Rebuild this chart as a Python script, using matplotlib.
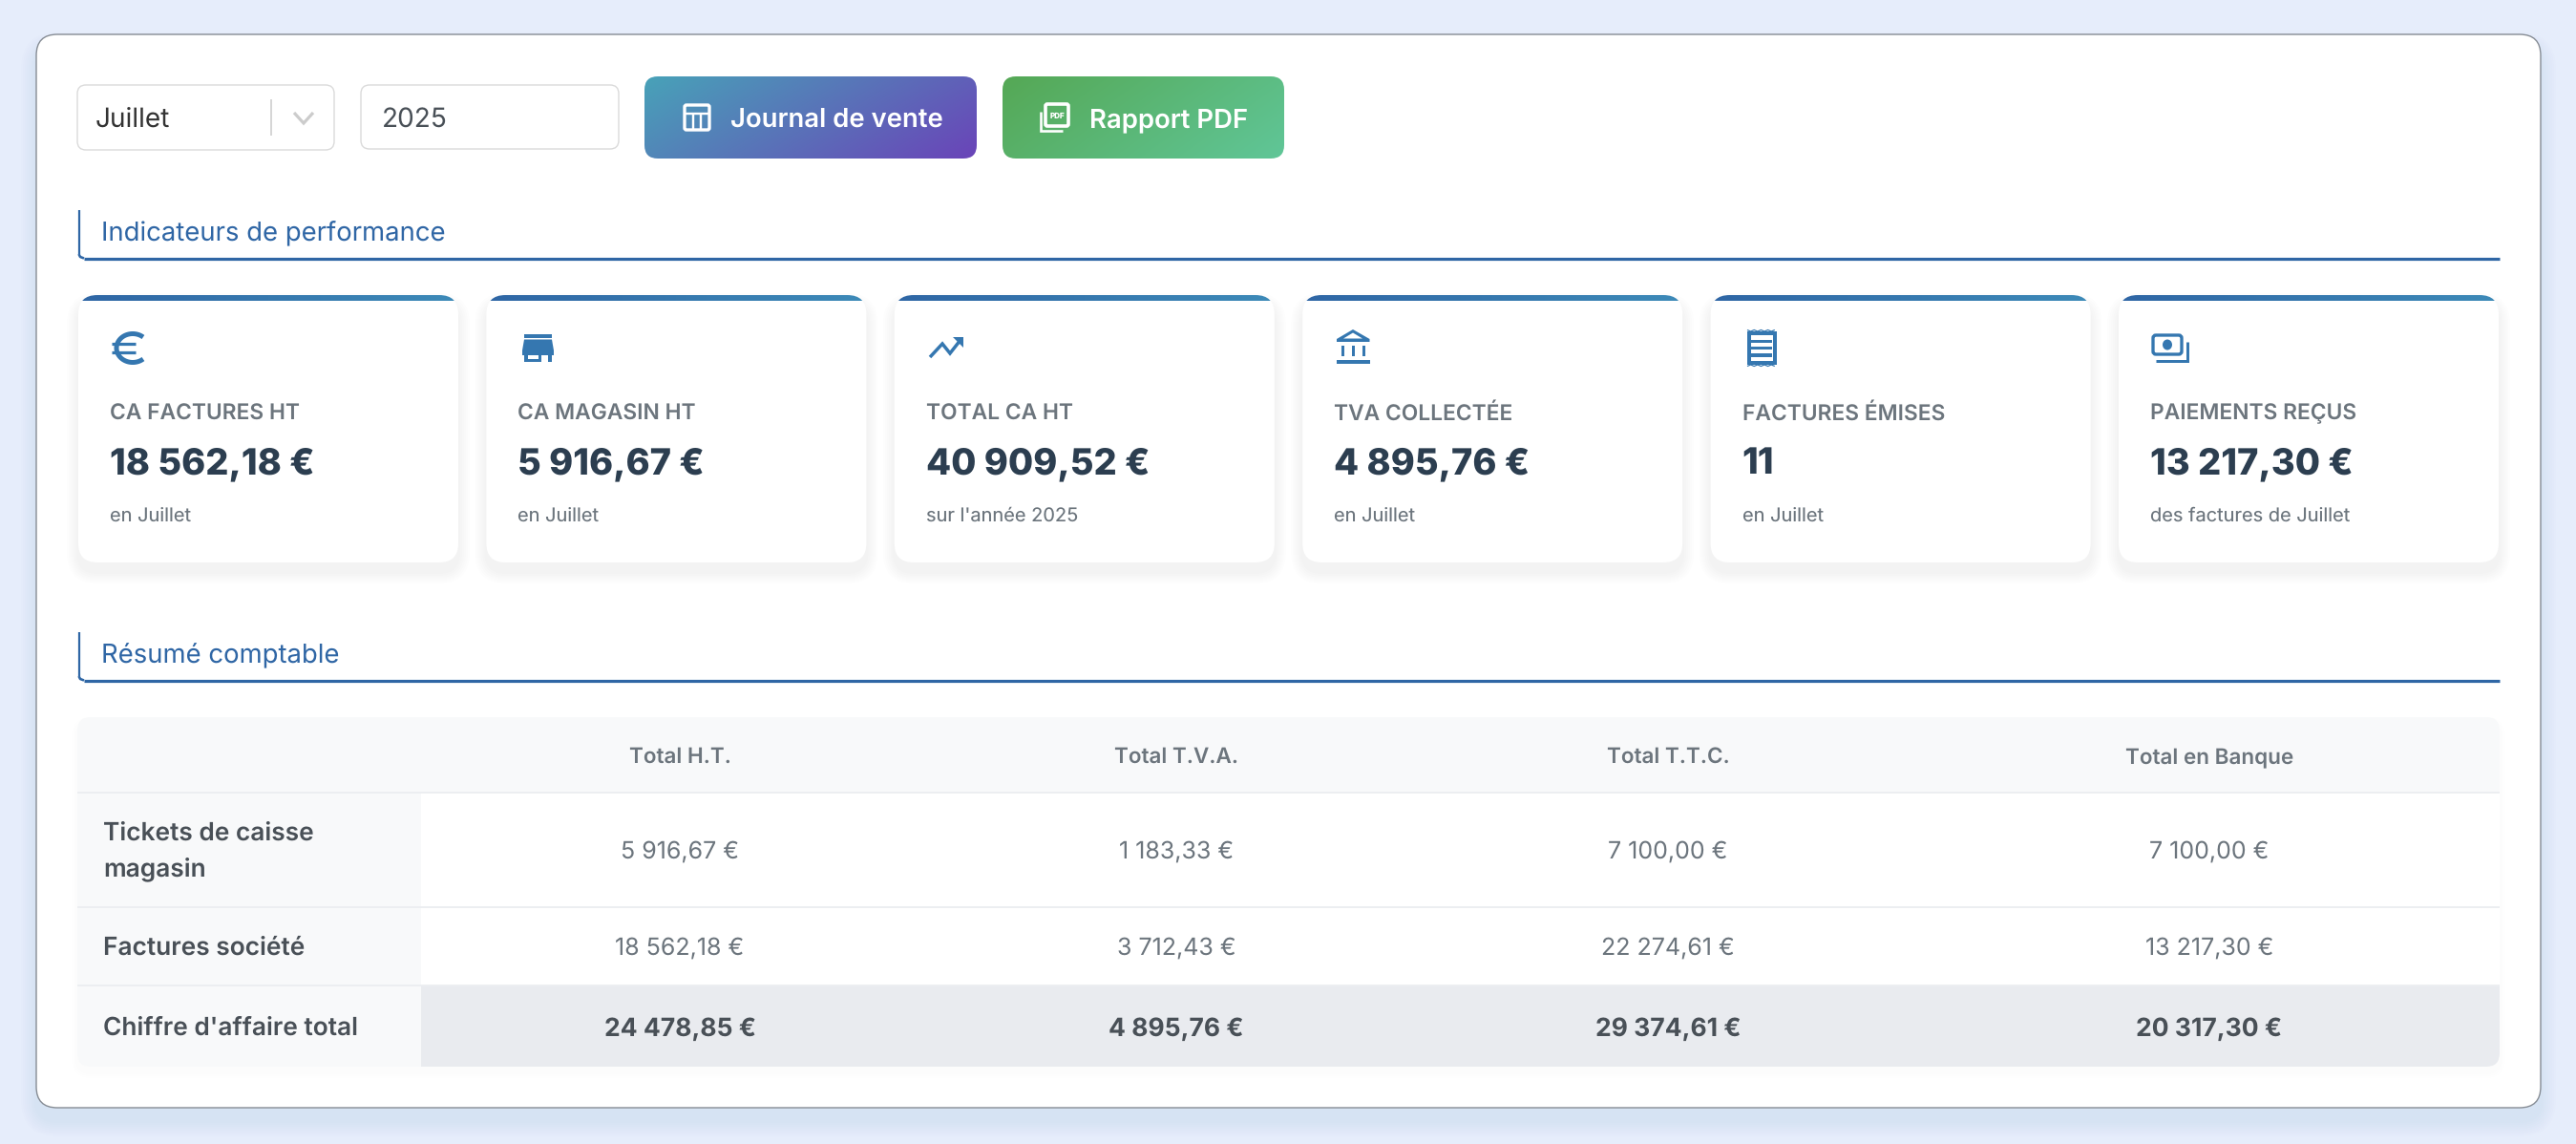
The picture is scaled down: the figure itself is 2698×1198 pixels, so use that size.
import numpy as np
import matplotlib
matplotlib.use("Agg")
from matplotlib import pyplot as plt
from matplotlib.patches import FancyBboxPatch, Rectangle, Polygon, Ellipse
from matplotlib.colors import to_rgb

# chart content
month = "Juillet"
year = "2025"
buttons = ["Journal de vente", "Rapport PDF"]
sections = ["Indicateurs de performance", "Résumé comptable"]
kpi_labels = ["CA FACTURES HT", "CA MAGASIN HT", "TOTAL CA HT", "TVA COLLECTÉE", "FACTURES ÉMISES", "PAIEMENTS REÇUS"]
kpi_values = ["18 562,18 €", "5 916,67 €", "40 909,52 €", "4 895,76 €", "11", "13 217,30 €"]
kpi_notes = ["en Juillet", "en Juillet", "sur l'année 2025", "en Juillet", "en Juillet", "des factures de Juillet"]
table_columns = ["Total H.T.", "Total T.V.A.", "Total T.T.C.", "Total en Banque"]
table_rows = ["Tickets de caisse\nmagasin", "Factures société", "Chiffre d'affaire total"]
tickets_values = ["5 916,67 €", "1 183,33 €", "7 100,00 €", "7 100,00 €"]
factures_values = ["18 562,18 €", "3 712,43 €", "22 274,61 €", "13 217,30 €"]
total_values = ["24 478,85 €", "4 895,76 €", "29 374,61 €", "20 317,30 €"]

W, H = 2698, 1198
BLUE = "#3577b0"

plt.rcParams['font.family'] = ['Inter', 'DejaVu Sans']
plt.rcParams['text.hinting'] = 'none'

fig = plt.figure(figsize=(W / 100, H / 100), dpi=100, facecolor="#e6edfb")
ax = fig.add_axes([0, 0, 1, 1])
ax.set_xlim(0, W)
ax.set_ylim(H, 0)
ax.axis('off')


def rounded(x0, y0, x1, y1, r, fc="white", ec="none", lw=0, z=1, alpha=None):
    p = FancyBboxPatch((x0 + r, y0 + r), x1 - x0 - 2 * r, y1 - y0 - 2 * r,
                       boxstyle=f"round,pad={r},rounding_size={r}",
                       fc=fc, ec=ec, lw=lw, zorder=z, alpha=alpha)
    ax.add_patch(p)
    return p


def shadow(x0, y0, x1, y1, r, dy, blur, color, strength, z=1):
    # stack of faint boxes to fake a css blur
    for i in range(blur, 0, -2):
        rounded(x0 - i, y0 + dy - i, x1 + i, y1 + dy + i, r + i,
                fc=color, z=z, alpha=strength)


def gradient(x0, y0, x1, y1, c0, c1, clip, diagonal=0.0, z=2):
    yy, xx = np.mgrid[0:1:60j, 0:1:200j]
    t = (xx + diagonal * yy) / (1 + diagonal)
    c0, c1 = np.array(to_rgb(c0)), np.array(to_rgb(c1))
    img = c0 + (c1 - c0) * t[..., None]
    im = ax.imshow(img, extent=(x0, x1, y1, y0), aspect='auto', zorder=z, interpolation='bilinear')
    im.set_clip_path(clip)
    ax.set_xlim(0, W)
    ax.set_ylim(H, 0)


def label(x, y, s, px, color, weight=400, ha='left', z=6):
    return ax.text(x, y, s, fontsize=px * 0.72, color=color, fontweight=weight, ha=ha, va='baseline', zorder=z)


def line(xs, ys, color=BLUE, lw=3.0, z=5, cap='butt', join='miter'):
    ax.plot(xs, ys, color=color, lw=lw * 0.72, solid_capstyle=cap, solid_joinstyle=join, zorder=z)


def poly(points, fc=BLUE, z=5):
    ax.add_patch(Polygon(points, closed=True, fc=fc, ec='none', zorder=z))


def rect(x0, y0, x1, y1, fc=BLUE, z=5):
    ax.add_patch(Rectangle((x0, y0), x1 - x0, y1 - y0, fc=fc, ec='none', zorder=z))


# icons, drawn relative to their position in pixels
def icon_euro(x):
    a = np.radians(np.linspace(50, 310, 60))
    line(x + 22 + 17 * np.cos(a), 364.5 - 15 * np.sin(a), lw=5)
    line([x, x + 25], [360, 360], lw=3.2)
    line([x, x + 25], [369, 369], lw=3.2)


def icon_store(x):
    rect(x + 2, 350, x + 31, 353.5)
    poly([(x + 2, 355.5), (x + 31, 355.5), (x + 33, 367), (x + 33, 372), (x, 372), (x, 367)])
    rect(x + 2, 372, x + 6, 379)
    rect(x + 2, 376, x + 20, 379)
    rect(x + 17, 372, x + 20, 379)
    rect(x + 27, 372, x + 31, 379)


def icon_trend(x):
    line([x + 1, x + 14, x + 22, x + 33], [374, 360, 370, 356], lw=3.5)
    poly([(x + 25, 353), (x + 36, 353), (x + 36, 364)])


def icon_bank(x):
    poly([(x + 17, 345), (x + 34.5, 355), (x + 34.5, 358), (x, 358), (x, 355)])
    poly([(x + 17, 348.5), (x + 27, 354.5), (x + 7, 354.5)], fc="white", z=6)
    for dx in (6, 17, 28):
        rect(x + dx - 1.5, 362, x + dx + 1.5, 373)
    rect(x, 377, x + 34.5, 381)


def icon_receipt(x):
    rect(x + 1, 347, x + 32, 382)
    rect(x + 5, 351, x + 28, 378, fc="white", z=5)
    for yy in (355.5, 362.5, 370):
        rect(x + 5, yy, x + 27, yy + 3.5, z=6)
    line(np.arange(x + 1, x + 32, 3.6), [347 if i % 2 else 345.5 for i in range(9)], lw=1.2)
    line(np.arange(x + 1, x + 32, 3.6), [382 if i % 2 else 383.5 for i in range(9)], lw=1.2)


def icon_money(x):
    rounded(x + 1, 351, x + 31, 371, 3, fc="white", ec=BLUE, lw=2.4, z=5)
    ax.add_patch(Ellipse((x + 16, 361), 10, 11, fc=BLUE, ec='none', zorder=6))
    line([x + 37, x + 37, x + 4], [358, 378, 378], lw=3)


kpi_icons = [icon_euro, icon_store, icon_trend, icon_bank, icon_receipt, icon_money]
kpi_icon_x = [117, 547, 973, 1400, 1829, 2254]

# outer card
shadow(38, 36, 2661, 1160, 22, 14, 16, "#7f95b8", 0.012)
rounded(38, 36, 2661, 1160, 22, fc="white", ec="#868c94", lw=1.0, z=2)

# toolbar
rounded(81, 89, 350, 157, 9, fc="white", ec="#dadada", lw=1.0, z=3)
rounded(378, 89, 648, 156, 9, fc="white", ec="#dadada", lw=1.0, z=3)
line([284, 284], [104, 142], color="#cccccc", lw=1.6)
line([308, 318, 328], [118, 129, 118], color="#cccccc", lw=3.2)
label(100, 133, month, 28, "#333333")
label(400, 133, year, 28, "#495057")

b1 = rounded(675, 80, 1023, 166, 14, fc="white", z=3)
gradient(675, 80, 1023, 166, "#48a2b8", "#6a44b8", b1, diagonal=0.4, z=4)
b2 = rounded(1050, 80, 1345, 166, 14, fc="white", z=3)
gradient(1050, 80, 1345, 166, "#55a855", "#60c698", b2, diagonal=0.4, z=4)

# table icon of the first button
rounded(717, 110, 743, 136, 2, fc="none", ec="white", lw=2.4, z=5)
line([717, 743], [119, 119], color="white", lw=2.4)
line([726, 726], [119, 136], color="white", lw=2.4)
line([734, 734], [119, 136], color="white", lw=2.4)
label(765, 133, buttons[0], 27.5, "white", 600)
# pdf icon of the second button
rounded(1095, 109, 1119, 132, 2, fc="none", ec="white", lw=2.6, z=5)
line([1090, 1090, 1113], [117, 137, 137], color="white", lw=2.6)
label(1107, 124, "PDF", 8, "white", 700, ha='center')
label(1141, 133, buttons[1], 27.5, "white", 600)

# section titles
for title, dy in zip(sections, (0, 442)):
    line([82.5, 82.5], [220 + dy, 266 + dy], color="#2f66a5", lw=2.2)
    line([82.5, 84, 88], [266 + dy, 269 + dy, 270.5 + dy], color="#2f66a5", lw=2.6, join='round')
    line([88, 2618], [270.5 + dy, 270.5 + dy], color="#2f66a5", lw=3.2)
    label(106, 252 + dy, title, 27.5, "#2f66a5")

# kpi cards
for i in range(len(kpi_labels)):
    x0 = 82 + i * 427.4
    x1 = x0 + 398
    shadow(x0, 309, x1, 589, 20, 10, 12, "#5a6675", 0.006, z=3)
    c = rounded(x0, 309, x1, 589, 20, fc="white", z=3)
    gradient(x0, 309, x1, 315.5, "#2f66a5", "#3d8ab8", c, z=4)
    kpi_icons[i](kpi_icon_x[i])
    label(x0 + 33, 439.5, kpi_labels[i], 22.8, "#6c757d", 600)
    label(x0 + 33, 496.5, kpi_values[i], 38, "#2c3e50", 800)
    label(x0 + 33, 546, kpi_notes[i], 20, "#6c757d")

# accounting table
shadow(81, 751, 2618, 1117, 14, 6, 6, "#5a6675", 0.004, z=3)
tb = rounded(81, 751, 2618, 1117, 14, fc="white", z=3)
col_x = [712, 1232, 1747, 2314]
cells = []
cells.append(Rectangle((81, 751), 2537, 79, fc="#f8f9fa", ec='none', zorder=4))
cells.append(Rectangle((81, 830), 360, 287, fc="#f8f9fa", ec='none', zorder=4))
cells.append(Rectangle((441, 1032), 2177, 85, fc="#e9ebef", ec='none', zorder=4))
for yy in (830, 950, 1032):
    cells.append(Rectangle((81, yy - 0.7), 2537, 1.4, fc="#eceef1", ec='none', zorder=5))
for cell in cells:
    ax.add_patch(cell)
    cell.set_clip_path(tb)

for x, name in zip(col_x, table_columns):
    label(x, 799, name, 22.5, "#6c757d", 600, ha='center')

row_base = [899, 1000, 1084.5]
for x, a, b, c in zip(col_x, tickets_values, factures_values, total_values):
    label(x, row_base[0], a, 25, "#6c757d", ha='center')
    label(x, row_base[1], b, 25, "#6c757d", ha='center')
    label(x, row_base[2], c, 26.5, "#495057", 700, ha='center')

first, second = table_rows[0].split("\n")
label(108, 880, first, 26.3, "#495057", 600)
label(108, 917.5, second, 26.3, "#495057", 600)
label(108, 1000, table_rows[1], 26.3, "#495057", 600)
label(108, 1084, table_rows[2], 26.3, "#495057", 600)

fig.savefig("out.png", dpi=100, facecolor=fig.get_facecolor())
